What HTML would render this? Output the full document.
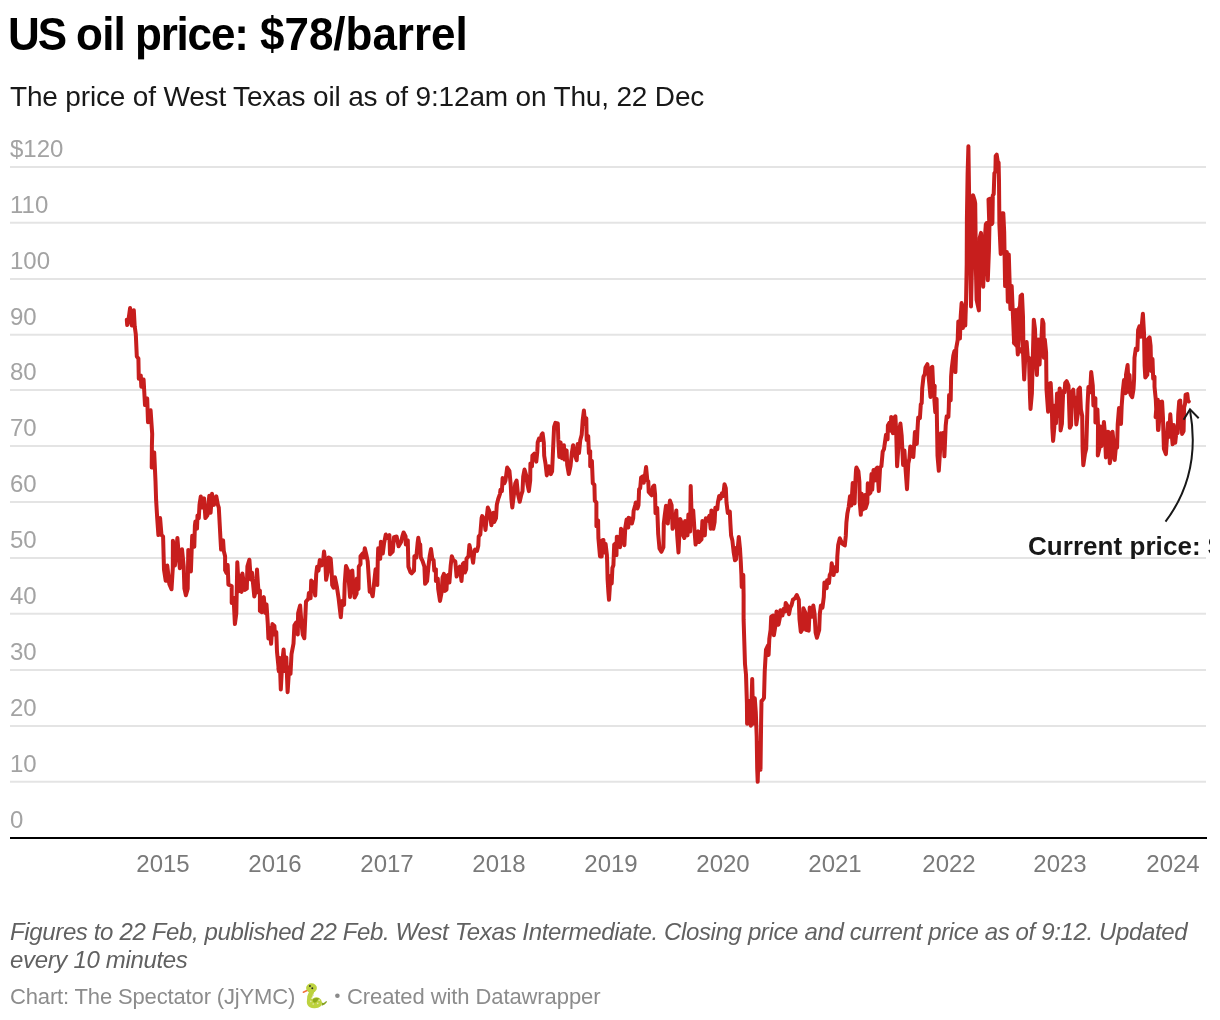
<!DOCTYPE html>
<html><head><meta charset="utf-8">
<style>
html,body{margin:0;padding:0;background:#fff;}
body{width:1220px;height:1020px;position:relative;overflow:hidden;font-family:"Liberation Sans",sans-serif;}
.t{position:absolute;white-space:pre;line-height:1;will-change:transform;}
.ti{top:13px;font-size:44px;font-weight:bold;color:#000;transform:scaleY(1.04);transform-origin:0 37.5px;}
#sub{left:10px;top:83px;font-size:28px;color:#181818;letter-spacing:-0.17px;}
.yl{left:10px;font-size:24px;color:#a3a3a3;}
.xl{font-size:24px;color:#7a7a7a;top:852px;transform:translateX(-50%);}
.nt{left:10px;font-size:24px;font-style:italic;color:#616161;}
.by{top:986px;font-size:22px;color:#8c8c8c;}
#ann{left:1028px;top:533px;font-size:26px;font-weight:bold;color:#181818;width:182px;overflow:hidden;letter-spacing:0.05px;}
svg{position:absolute;left:0;top:0;}
</style></head><body>
<div class="t ti" style="left:8px;letter-spacing:-2px">US</div>
<div class="t ti" style="left:76px;letter-spacing:-0.75px">oil</div>
<div class="t ti" style="left:135.4px;letter-spacing:-1.2px">price:</div>
<div class="t ti" style="left:259.7px;letter-spacing:-0.02px">$78/barrel</div>
<div class="t" id="sub">The price of West Texas oil as of 9:12am on Thu, 22 Dec</div>
<svg id="chart" width="1220" height="1020" viewBox="0 0 1220 1020">
<g id="grid" stroke="#e4e4e4" stroke-width="2">
<line x1="10" x2="1206" y1="166.9" y2="166.9"/>
<line x1="10" x2="1206" y1="222.8" y2="222.8"/>
<line x1="10" x2="1206" y1="278.9" y2="278.9"/>
<line x1="10" x2="1206" y1="334.8" y2="334.8"/>
<line x1="10" x2="1206" y1="390.1" y2="390.1"/>
<line x1="10" x2="1206" y1="446.0" y2="446.0"/>
<line x1="10" x2="1206" y1="501.9" y2="501.9"/>
<line x1="10" x2="1206" y1="557.9" y2="557.9"/>
<line x1="10" x2="1206" y1="613.8" y2="613.8"/>
<line x1="10" x2="1206" y1="669.9" y2="669.9"/>
<line x1="10" x2="1206" y1="725.9" y2="725.9"/>
<line x1="10" x2="1206" y1="781.7" y2="781.7"/>
</g>
<line x1="10" x2="1207" y1="838" y2="838" stroke="#000" stroke-width="2"/>
<path id="line" fill="none" stroke="#c71e1d" stroke-width="4" stroke-linejoin="round" stroke-linecap="round" d="M126.8 319.7 L127.2 325.0 L128.5 319.7 L130.1 308.1 L131.8 325.6 L133.8 310.2 L134.7 326.3 L135.8 334.2 L136.8 356.5 L138.4 358.5 L138.8 378.8 L140.8 375.5 L141.3 386.7 L143.6 379.5 L145.0 405.1 L147.2 398.5 L148.0 422.2 L150.6 410.3 L152.2 434.0 L151.9 445.8 L151.7 467.5 L154.2 452.4 L155.5 481.3 L156.1 499.7 L157.2 518.1 L158.4 535.1 L160.1 518.1 L161.5 535.1 L163.1 536.5 L164.0 569.6 L165.7 580.7 L167.3 565.6 L169.3 584.0 L171.5 589.3 L172.8 568.2 L172.9 540.7 L174.9 565.6 L177.4 538.0 L179.8 568.2 L182.0 549.2 L183.7 566.3 L184.4 588.6 L185.9 595.2 L187.7 588.6 L188.3 549.9 L190.9 571.5 L192.2 535.7 L194.3 546.7 L194.9 525.5 L195.4 521.4 L197.0 528.6 L197.5 515.4 L198.8 518.1 L199.5 504.9 L200.8 496.4 L202.1 507.6 L204.1 498.4 L205.4 518.1 L207.4 515.4 L209.3 495.7 L210.6 512.8 L212.0 493.8 L213.9 504.9 L216.3 496.4 L217.9 504.9 L218.8 507.6 L219.8 526.0 L220.5 539.1 L221.1 549.6 L223.1 540.4 L223.8 550.9 L225.1 556.2 L225.1 570.2 L226.4 572.8 L227.7 565.0 L228.4 584.7 L231.7 586.0 L231.7 603.1 L233.6 597.8 L234.9 624.1 L236.3 613.6 L237.3 562.3 L238.9 591.2 L239.8 575.5 L241.5 591.9 L242.4 573.5 L244.8 589.9 L246.8 588.6 L247.4 566.3 L249.4 559.7 L250.7 579.4 L252.0 572.8 L254.3 596.5 L256.0 589.9 L257.0 569.6 L257.9 583.3 L258.6 592.5 L259.9 590.6 L259.9 610.9 L261.9 612.2 L262.5 601.7 L263.8 597.1 L265.2 612.9 L266.5 604.4 L267.8 624.1 L268.4 638.5 L269.8 628.0 L271.1 643.8 L272.4 624.1 L274.4 626.0 L275.0 634.6 L276.3 632.0 L277.0 651.7 L278.9 671.4 L278.4 668.5 L279.7 658.0 L280.8 689.5 L282.3 662.0 L283.6 649.5 L285.0 671.1 L286.3 657.4 L287.6 692.2 L289.2 667.2 L290.5 673.8 L291.5 654.1 L293.5 643.6 L294.4 625.2 L296.1 622.5 L297.8 634.4 L298.1 613.3 L300.1 605.5 L301.4 622.5 L302.7 634.4 L304.3 638.3 L305.3 617.3 L306.0 601.5 L308.3 598.9 L308.9 593.0 L310.6 598.2 L311.2 580.5 L313.6 583.1 L315.2 595.6 L316.2 574.6 L317.1 566.7 L318.5 570.6 L319.8 560.1 L321.7 565.4 L322.8 564.1 L324.0 551.6 L325.3 561.4 L326.1 579.8 L327.7 572.0 L328.6 557.5 L330.7 558.8 L331.6 570.6 L332.2 585.1 L333.6 587.7 L334.9 577.2 L336.8 586.4 L338.6 598.2 L339.5 606.1 L340.8 617.3 L342.1 600.9 L344.1 604.8 L344.7 583.8 L346.0 566.0 L348.0 570.6 L350.0 596.9 L350.6 572.0 L352.3 570.6 L353.5 589.0 L354.6 597.6 L356.6 593.6 L356.9 578.5 L358.5 589.0 L358.8 566.7 L360.5 564.1 L360.5 556.2 L362.5 553.6 L363.8 557.5 L364.8 548.3 L366.4 554.9 L367.7 561.4 L369.0 581.1 L369.7 591.7 L371.0 591.0 L372.7 596.3 L374.3 581.1 L375.6 569.3 L377.3 585.1 L377.8 558.8 L378.2 548.3 L380.2 558.8 L380.9 541.7 L382.8 553.6 L384.1 543.1 L385.8 534.5 L387.4 537.8 L389.4 535.2 L390.0 554.2 L392.7 551.6 L394.0 537.1 L396.6 536.5 L398.6 546.3 L401.2 541.7 L402.5 535.8 L403.6 532.5 L405.6 536.5 L405.8 544.4 L407.8 540.4 L408.4 566.7 L410.4 572.0 L411.7 573.3 L414.0 570.6 L414.4 556.2 L416.3 557.5 L417.6 543.1 L418.3 537.8 L419.6 545.7 L420.2 544.4 L420.8 557.5 L422.5 560.8 L424.4 566.7 L425.1 583.8 L427.1 581.1 L428.4 566.7 L429.7 556.2 L431.0 549.0 L432.3 558.8 L433.6 560.1 L434.3 570.6 L435.9 569.3 L435.9 581.1 L437.8 578.5 L438.2 589.0 L440.0 600.9 L441.5 593.0 L442.6 577.2 L443.9 573.9 L444.8 591.0 L446.5 589.7 L447.2 575.9 L448.8 574.6 L449.4 582.5 L450.7 565.4 L451.8 556.2 L453.3 560.1 L455.3 561.4 L456.6 576.6 L458.6 568.0 L459.7 566.7 L461.5 581.1 L462.8 564.1 L463.9 562.8 L464.9 572.6 L466.2 569.3 L466.5 558.8 L468.5 556.2 L469.4 545.0 L470.7 550.9 L471.7 553.6 L473.1 562.8 L474.1 553.6 L475.0 549.6 L477.0 550.9 L478.3 545.7 L478.7 536.5 L480.3 534.5 L481.6 518.1 L482.2 516.1 L484.2 519.4 L485.5 529.9 L486.8 516.8 L487.8 507.6 L489.5 511.5 L491.4 525.3 L493.4 512.8 L494.1 522.0 L496.0 518.1 L496.7 506.3 L496.9 504.3 L498.2 499.0 L500.0 493.8 L500.5 489.8 L501.9 491.1 L502.6 478.0 L504.4 483.3 L505.5 480.6 L507.2 467.5 L509.4 470.8 L510.7 484.6 L511.4 499.0 L512.3 507.6 L514.0 493.8 L515.3 483.3 L516.6 480.6 L517.9 493.8 L519.7 501.7 L521.2 495.1 L522.5 491.1 L523.2 476.7 L524.5 469.5 L526.2 475.4 L527.5 484.6 L528.9 491.1 L530.2 480.6 L530.4 463.6 L532.0 466.2 L532.4 455.7 L534.4 453.7 L536.3 461.6 L537.3 451.7 L537.7 442.5 L539.0 438.6 L540.7 439.9 L541.6 434.7 L542.6 433.3 L543.8 442.5 L544.2 455.7 L545.5 463.6 L546.8 475.4 L548.8 466.2 L550.8 474.1 L552.1 471.4 L552.8 455.7 L554.1 426.8 L555.4 422.8 L557.8 423.5 L558.3 439.9 L559.3 457.0 L560.6 442.5 L562.0 458.3 L563.9 445.2 L564.6 459.6 L566.6 450.4 L567.2 464.9 L568.8 474.1 L570.5 466.2 L571.8 453.1 L573.1 445.2 L575.1 455.7 L576.7 460.3 L577.7 443.9 L579.0 453.1 L580.3 439.9 L581.7 434.7 L582.7 420.2 L583.9 410.4 L585.2 424.2 L586.3 418.2 L586.7 439.9 L588.2 436.0 L588.9 453.1 L590.2 451.1 L590.2 466.2 L591.9 460.9 L592.8 483.3 L594.4 484.8 L594.8 500.6 L596.4 502.5 L596.4 526.2 L598.1 520.3 L598.4 538.0 L600.0 556.4 L601.7 556.4 L601.7 540.6 L603.4 540.0 L604.3 552.5 L605.6 543.9 L606.9 555.1 L607.2 563.0 L607.6 579.4 L608.4 592.5 L609.0 599.8 L609.7 589.2 L610.3 576.1 L611.7 583.5 L612.4 568.0 L613.4 565.3 L614.2 544.6 L615.5 543.3 L616.5 555.1 L616.8 536.7 L618.8 537.4 L620.1 547.2 L621.0 528.8 L622.7 531.4 L624.4 545.2 L625.3 527.5 L626.6 519.6 L628.3 527.5 L628.6 517.7 L631.2 519.0 L631.9 523.6 L633.2 518.3 L633.6 511.1 L635.2 505.2 L635.8 502.5 L637.5 508.5 L638.5 505.2 L639.1 489.4 L640.2 488.1 L641.1 477.6 L642.8 476.3 L643.7 482.8 L645.0 475.6 L646.1 467.1 L647.3 480.2 L648.3 481.5 L648.7 492.0 L651.6 495.3 L652.9 486.8 L654.2 485.5 L655.1 494.7 L655.5 513.1 L657.2 507.8 L658.2 534.1 L659.5 548.5 L661.4 551.8 L663.4 547.2 L663.8 523.6 L664.7 515.7 L666.0 505.8 L667.8 523.6 L668.7 510.4 L670.0 500.6 L671.6 505.2 L672.6 528.8 L674.6 523.6 L676.3 510.4 L677.2 535.4 L678.5 552.5 L679.6 528.8 L680.2 519.0 L681.8 523.6 L682.5 534.1 L684.4 538.0 L685.1 520.9 L687.5 535.4 L688.4 514.4 L690.1 531.4 L690.7 486.1 L691.7 518.3 L693.2 510.4 L694.3 527.5 L695.6 544.6 L698.2 531.4 L698.9 542.0 L701.5 539.3 L702.4 520.9 L704.8 535.4 L705.8 518.3 L707.4 520.9 L709.4 515.7 L710.7 528.8 L711.4 510.4 L713.3 528.8 L714.6 522.2 L715.3 507.8 L717.3 509.1 L717.9 502.5 L719.2 496.0 L720.6 498.6 L721.9 493.3 L723.2 496.0 L724.5 484.2 L725.8 488.1 L726.5 502.5 L727.8 513.1 L729.8 511.7 L730.4 523.6 L731.1 535.4 L732.4 540.6 L733.7 552.5 L735.0 560.3 L736.0 559.3 L736.8 547.5 L737.7 548.8 L738.8 537.0 L740.0 548.8 L740.8 562.0 L741.4 575.1 L741.7 586.9 L743.3 575.1 L743.6 595.1 L743.6 619.4 L744.3 641.7 L745.0 664.1 L746.0 674.6 L746.9 703.1 L747.1 723.8 L748.4 700.8 L749.6 713.6 L750.9 725.7 L751.5 703.1 L752.2 679.1 L752.8 705.8 L753.2 723.8 L754.2 709.7 L754.8 698.3 L755.8 712.3 L756.7 736.5 L757.2 768.8 L757.7 781.8 L758.9 742.9 L760.5 769.7 L761.1 723.8 L761.5 700.8 L762.3 700.5 L764.0 697.9 L764.7 672.0 L765.3 661.4 L766.0 649.6 L767.9 645.7 L768.6 654.9 L769.3 639.1 L770.6 629.9 L771.2 616.8 L773.2 615.5 L773.9 635.2 L775.8 623.3 L776.5 611.5 L778.5 624.7 L779.8 618.1 L780.4 610.2 L782.4 615.5 L783.7 608.9 L785.0 611.5 L785.7 603.0 L787.7 606.3 L789.0 614.2 L790.3 607.6 L791.6 605.0 L792.9 599.7 L794.9 598.4 L796.8 595.1 L798.8 599.7 L799.5 619.4 L800.8 631.9 L802.8 628.6 L803.4 608.2 L805.4 612.8 L806.0 629.9 L808.7 630.6 L809.7 607.6 L812.0 616.8 L813.3 605.6 L814.6 614.2 L815.6 632.5 L816.9 637.8 L819.2 629.9 L819.8 614.2 L820.9 605.6 L822.5 607.6 L823.8 597.1 L824.4 582.6 L826.7 588.2 L827.1 580.3 L829.0 583.0 L829.7 575.1 L831.0 572.5 L831.7 563.3 L833.6 575.1 L834.9 567.2 L836.9 571.1 L837.3 556.7 L838.2 544.9 L839.8 538.3 L842.2 543.6 L844.8 545.5 L845.8 535.7 L846.4 522.5 L847.4 513.3 L848.7 506.8 L850.0 496.3 L851.4 505.5 L852.0 495.0 L852.7 483.1 L854.6 503.5 L855.3 483.1 L856.0 470.0 L856.4 467.5 L858.4 471.4 L859.4 482.0 L859.7 501.7 L860.8 514.8 L861.7 493.8 L863.0 509.5 L865.0 495.1 L865.6 508.2 L867.3 503.0 L867.8 483.3 L869.2 493.8 L870.5 492.5 L871.5 474.1 L872.2 489.8 L873.5 470.1 L874.8 480.6 L876.1 468.8 L877.4 467.5 L878.8 491.1 L880.1 467.5 L881.4 466.2 L882.7 451.7 L884.0 449.1 L885.3 439.9 L886.0 434.7 L887.6 439.3 L887.9 425.5 L889.3 422.8 L890.6 430.7 L891.2 416.9 L892.9 433.3 L893.9 418.2 L895.4 416.3 L896.2 432.0 L897.1 466.2 L898.5 445.2 L899.4 429.4 L900.4 423.5 L901.7 436.0 L903.1 464.9 L904.4 450.4 L905.7 471.4 L907.0 489.2 L908.3 463.6 L909.4 458.3 L910.3 446.5 L911.6 447.8 L913.3 457.0 L914.2 443.9 L914.9 432.0 L916.8 443.9 L917.5 429.4 L918.2 417.6 L919.9 418.2 L920.8 404.4 L921.7 403.1 L922.2 388.5 L923.5 376.7 L924.8 374.1 L925.5 367.5 L927.4 364.2 L928.5 375.4 L929.4 384.6 L930.5 397.1 L931.4 367.5 L932.3 366.8 L933.1 384.6 L934.7 385.9 L934.4 400.3 L935.3 412.2 L936.6 399.0 L937.0 424.0 L937.5 455.7 L938.8 470.8 L940.1 450.4 L940.9 433.3 L942.5 445.2 L943.5 432.7 L944.4 456.3 L945.1 439.9 L945.7 425.5 L946.7 416.3 L948.4 416.9 L948.8 407.1 L949.1 395.1 L950.7 400.3 L951.1 376.7 L951.7 368.8 L953.3 355.7 L954.4 351.1 L955.4 372.1 L956.3 347.8 L957.7 339.9 L958.3 321.5 L959.9 338.6 L960.7 316.3 L961.6 303.1 L962.9 328.1 L964.2 309.7 L965.3 325.5 L965.9 303.1 L964.4 310.4 L965.2 324.8 L966.0 303.8 L966.7 264.4 L966.9 219.1 L967.6 174.4 L968.4 146.2 L969.3 208.6 L969.8 240.1 L970.2 251.3 L971.0 306.4 L972.0 264.4 L972.3 213.8 L973.0 195.2 L974.7 200.7 L975.2 203.3 L975.6 234.2 L975.8 264.4 L976.6 299.9 L978.9 310.4 L979.3 264.4 L979.7 238.1 L981.0 232.9 L981.9 251.3 L983.2 286.7 L984.1 264.4 L984.9 238.1 L985.8 224.3 L986.7 223.0 L987.4 264.4 L987.8 280.2 L988.9 251.3 L989.4 227.6 L988.5 199.4 L990.4 198.7 L991.5 224.3 L992.4 223.0 L992.8 195.4 L993.7 194.1 L994.4 173.1 L995.4 171.8 L995.7 156.0 L996.7 154.7 L997.7 161.3 L998.6 162.6 L999.0 181.0 L999.4 224.3 L1000.7 253.9 L1002.0 213.2 L1003.3 213.2 L1004.2 232.2 L1005.1 286.1 L1006.8 251.9 L1007.8 301.8 L1008.8 254.6 L1010.4 309.1 L1011.7 286.1 L1014.1 343.2 L1015.4 310.4 L1017.8 354.4 L1018.7 309.1 L1020.0 306.4 L1020.6 295.9 L1022.0 294.6 L1023.0 317.0 L1023.5 353.7 L1024.8 356.4 L1026.6 341.9 L1027.9 359.0 L1013.9 342.7 L1015.9 309.9 L1017.9 353.9 L1019.9 307.9 L1021.8 295.3 L1022.5 339.4 L1023.1 353.9 L1024.2 379.5 L1025.5 352.5 L1026.7 342.7 L1027.7 359.1 L1029.0 357.8 L1029.4 373.6 L1030.0 397.2 L1030.5 409.0 L1031.9 393.3 L1032.6 365.7 L1033.3 339.4 L1033.8 319.7 L1035.0 328.9 L1035.9 359.1 L1036.9 374.9 L1038.2 339.4 L1039.6 364.4 L1040.5 339.4 L1041.5 338.1 L1042.4 319.7 L1043.5 323.6 L1043.9 357.8 L1044.8 339.4 L1046.1 352.5 L1046.5 389.3 L1048.1 411.7 L1048.8 384.1 L1050.7 383.1 L1051.8 405.5 L1052.3 427.8 L1053.1 440.9 L1054.3 427.8 L1054.9 405.5 L1056.0 423.2 L1057.0 393.6 L1057.9 416.0 L1059.7 388.4 L1060.6 430.4 L1061.9 423.9 L1063.2 391.0 L1064.5 392.3 L1065.2 383.1 L1066.7 381.2 L1068.5 385.8 L1069.8 427.8 L1071.1 425.2 L1071.7 392.3 L1073.3 389.7 L1074.4 405.5 L1075.0 397.6 L1076.3 424.5 L1077.7 414.7 L1078.3 389.7 L1079.9 387.7 L1080.9 409.4 L1082.2 416.0 L1082.6 448.8 L1083.3 465.2 L1084.9 454.1 L1086.2 448.8 L1086.8 429.1 L1087.5 405.5 L1088.4 387.1 L1090.1 392.3 L1091.2 372.0 L1092.8 385.8 L1093.4 405.5 L1095.4 398.2 L1095.4 422.5 L1097.4 409.4 L1098.0 425.2 L1097.8 455.4 L1099.3 448.8 L1100.4 426.5 L1101.3 446.2 L1102.6 440.9 L1103.9 421.9 L1104.8 431.7 L1105.9 457.4 L1107.9 431.7 L1108.8 432.4 L1109.8 463.3 L1111.1 455.4 L1112.5 431.7 L1113.8 443.6 L1114.7 460.0 L1115.7 448.8 L1117.1 447.5 L1117.7 424.5 L1119.0 408.1 L1121.0 423.9 L1121.7 405.5 L1122.7 392.0 L1124.0 380.1 L1125.6 393.3 L1126.0 374.9 L1127.6 365.0 L1128.9 392.0 L1129.5 374.9 L1130.6 394.6 L1132.2 397.2 L1133.5 389.3 L1134.1 378.8 L1134.5 357.8 L1135.8 348.6 L1137.4 349.9 L1138.1 330.2 L1139.4 326.3 L1140.7 336.8 L1141.8 325.0 L1142.9 313.8 L1144.0 332.8 L1144.6 365.7 L1145.3 377.5 L1147.3 374.9 L1147.9 339.4 L1149.6 337.4 L1150.6 346.0 L1151.2 370.9 L1152.5 359.1 L1153.2 378.8 L1154.5 376.8 L1154.5 386.7 L1155.8 399.8 L1156.5 415.6 L1157.8 399.8 L1158.4 430.0 L1160.4 403.8 L1162.1 401.8 L1163.0 418.2 L1155.6 417.2 L1157.0 399.5 L1158.0 430.0 L1159.0 401.5 L1160.5 419.2 L1162.0 401.5 L1163.0 419.2 L1163.9 448.7 L1165.9 454.1 L1166.9 438.9 L1167.9 423.1 L1168.9 436.9 L1170.3 414.3 L1171.3 429.0 L1172.6 444.3 L1173.8 425.1 L1175.2 442.8 L1176.2 433.9 L1177.7 433.0 L1178.2 414.3 L1179.2 401.5 L1180.2 400.5 L1181.1 417.2 L1182.1 433.9 L1183.6 431.0 L1184.1 407.4 L1185.1 403.4 L1185.6 394.6 L1187.3 394.1 L1188.0 400.5 L1188.8 401.5"/>
<g id="arrow" fill="none" stroke="#181818" stroke-width="2" stroke-linecap="butt">
<path d="M1165.5 521.6 Q1201.5 474 1190 410"/>
<path d="M1183.6 419.7 L1190 409.3 L1198.7 418.2"/>
</g>
</svg>
<div class="t yl" style="top:137px">$120</div>
<div class="t yl" style="top:193px">110</div>
<div class="t yl" style="top:249px">100</div>
<div class="t yl" style="top:305px">90</div>
<div class="t yl" style="top:360px">80</div>
<div class="t yl" style="top:416px">70</div>
<div class="t yl" style="top:472px">60</div>
<div class="t yl" style="top:528px">50</div>
<div class="t yl" style="top:584px">40</div>
<div class="t yl" style="top:640px">30</div>
<div class="t yl" style="top:696px">20</div>
<div class="t yl" style="top:752px">10</div>
<div class="t yl" style="top:808px">0</div>
<div class="t xl" style="left:163px">2015</div>
<div class="t xl" style="left:275px">2016</div>
<div class="t xl" style="left:387px">2017</div>
<div class="t xl" style="left:499px">2018</div>
<div class="t xl" style="left:611px">2019</div>
<div class="t xl" style="left:723px">2020</div>
<div class="t xl" style="left:835px">2021</div>
<div class="t xl" style="left:948.5px">2022</div>
<div class="t xl" style="left:1060px">2023</div>
<div class="t xl" style="left:1172.5px">2024</div>
<div class="t" id="ann">Current price: $78</div>
<div class="t nt" style="top:920px;letter-spacing:-0.36px">Figures to 22 Feb, published 22 Feb. West Texas Intermediate. Closing price and current price as of 9:12. Updated</div>
<div class="t nt" style="top:948px;letter-spacing:-0.33px">every 10 minutes</div>
<div class="t by" style="left:10px;letter-spacing:-0.15px">Chart: The Spectator (JjYMC)</div>
<svg id="snake" style="left:295px;top:978px" width="50" height="36" viewBox="0 0 50 36">
<path d="M12.6 12.2 L8.3 14.2" stroke="#f2703a" stroke-width="1.5" stroke-linecap="round" fill="none"/>
<path d="M26.4 24.6 L28.7 25.0 L31.0 23.3 L31.9 22.9 L31.6 24.6 L29.6 26.6 L26.8 27.8 Z" fill="#86a222"/>
<ellipse cx="21.2" cy="22.4" rx="3.6" ry="2.3" fill="#8fa91f"/>
<path d="M16.8 13.5 C15.2 16.4 14.1 19.7 14.3 23.8 C14.3 27 17.2 27.9 19.7 27.7 C23 27.5 24.6 26.6 24.5 24.6 C24.2 22.1 22.1 21.5 20.5 21.9 C18.9 22.4 18.6 23.8 19.8 24.4" fill="none" stroke="#bdd23f" stroke-width="5" stroke-linecap="round"/>
<path d="M17.6 21.5 Q20.5 19.4 24.5 20.4 Q23 21.3 22.2 22.9 Q21.3 24.7 19.3 24.7 Q17.5 23.9 17.6 21.5Z" fill="#8fa91f"/>
<ellipse cx="16.5" cy="10" rx="5.4" ry="4.7" fill="#bdd23f"/>
<circle cx="14.95" cy="8" r="0.95" fill="#2b2b2b"/><circle cx="17.3" cy="10.3" r="0.95" fill="#2b2b2b"/>
<circle cx="42.4" cy="17.8" r="2.3" fill="#8a8a8a"/>
<g fill="#e3e6b0"><circle cx="18.2" cy="17.2" r="0.8"/><circle cx="16.6" cy="20.3" r="0.8"/><circle cx="15.8" cy="23.4" r="0.8"/><circle cx="18.2" cy="26" r="0.8"/><circle cx="22.7" cy="25.4" r="0.8"/><circle cx="24.2" cy="22.3" r="0.8"/></g>
</svg>
<div class="t by" style="left:346.7px;letter-spacing:-0.09px">Created with Datawrapper</div>
</body></html>
